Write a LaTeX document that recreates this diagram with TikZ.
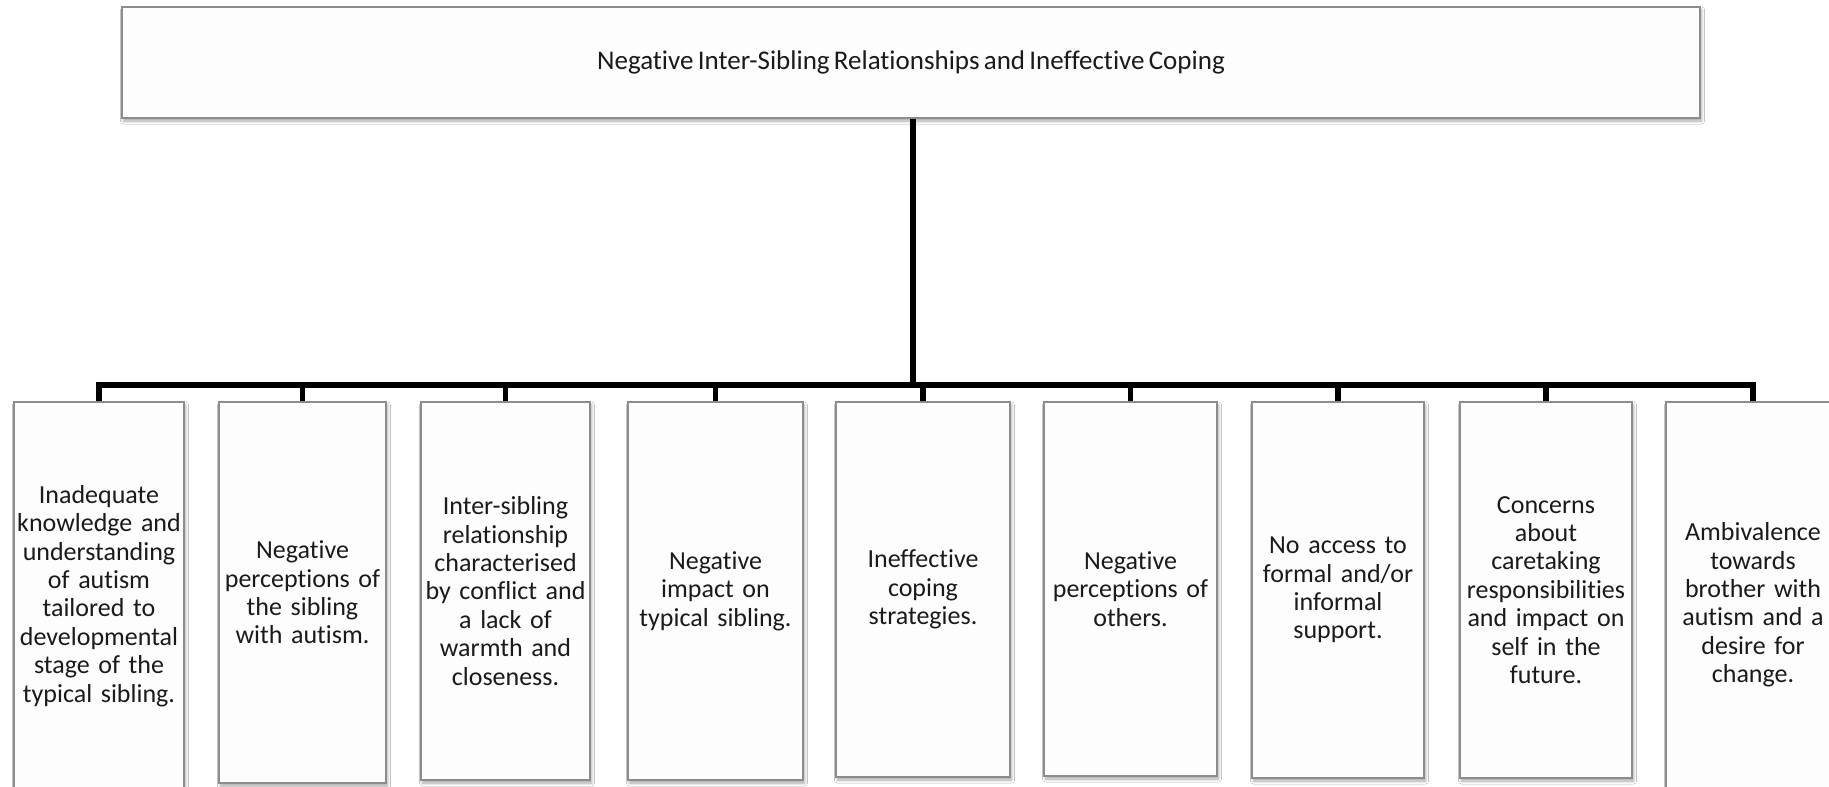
\documentclass[tikz,border=0pt]{standalone}
\usepackage{fontspec}
\setmainfont{Carlito}[Ligatures=NoCommon, WordSpace=0.7]
\usetikzlibrary{shadows.blur}
\definecolor{boxline}{HTML}{8C8C8C}
\definecolor{boxfill}{HTML}{FDFDFD}
\definecolor{ink}{HTML}{1A1A1A}
\tikzset{
  themebox/.style={draw=boxline, line width=1.4pt, fill=boxfill, rectangle,
    inner sep=0pt, align=center, text=ink,
    blur shadow={shadow xshift=1.5pt, shadow yshift=-3pt, shadow blur steps=6,
      shadow blur radius=3pt, shadow opacity=35},
    font=\fontsize{26}{28.4}\selectfont},
  subbox/.style={themebox, text width=#1, minimum width=#1},
  conn/.style={draw=black, line width=5.2pt, line join=miter}
}
\begin{document}
\begin{tikzpicture}[x=1pt, y=1pt]
\useasboundingbox (0,0) rectangle (1829,-787);
\fill[white] (0,0) rectangle (1829,-787);

% main theme
\node[themebox, minimum width=1578pt, minimum height=111pt,
  font=\fontsize{27}{29.5}\selectfont] (top) at (911,-62.5)
  {Negative Inter-Sibling Relationships and Ineffective Coping};

% sub-themes
\node[subbox=170pt, minimum height=388pt] (b1) at (99,-596)
  {Inadequate\\knowledge and\\understanding\\of autism\\tailored to\\developmental\\stage of the\\typical sibling.};
\node[subbox=167pt, minimum height=381pt] (b2) at (302.5,-592.5)
  {Negative\\perceptions of\\the sibling\\with autism.};
\node[subbox=169pt, minimum height=378pt] (b3) at (505.5,-591)
  {Inter-sibling\\relationship\\characterised\\by conflict and\\a lack of\\warmth and\\closeness.};
\node[subbox=175pt, minimum height=378pt] (b4) at (715.5,-591)
  {Negative\\impact on\\typical sibling.};
\node[subbox=174pt, minimum height=375pt] (b5) at (923,-589.5)
  {Ineffective\\coping\\strategies.};
\node[subbox=173pt, minimum height=374pt] (b6) at (1130.5,-589)
  {Negative\\perceptions of\\others.};
\node[subbox=172pt, minimum height=376pt] (b7) at (1338,-590)
  {No access to\\formal and/or\\informal\\support.};
\node[subbox=172pt, minimum height=376pt] (b8) at (1546,-590)
  {Concerns\\about\\caretaking\\responsibilities\\and impact on\\self in the\\future.};
\node[subbox=174pt, minimum height=406pt] (b9) at (1753,-605)
  {Ambivalence\\towards\\brother with\\autism and a\\desire for\\change.};

% connectors
\coordinate (bus) at (913,-385);
\draw[conn] ([xshift=2pt]top.south) -- ([xshift=2pt]top.south |- bus);
\draw[conn] (b1.north) -- (b1.north |- bus) -- (b9.north |- bus) -- (b9.north);
\foreach \n in {b2,b3,b4,b5,b6,b7,b8}
  \draw[conn] (\n.north) -- (\n.north |- bus);
\end{tikzpicture}
\end{document}
